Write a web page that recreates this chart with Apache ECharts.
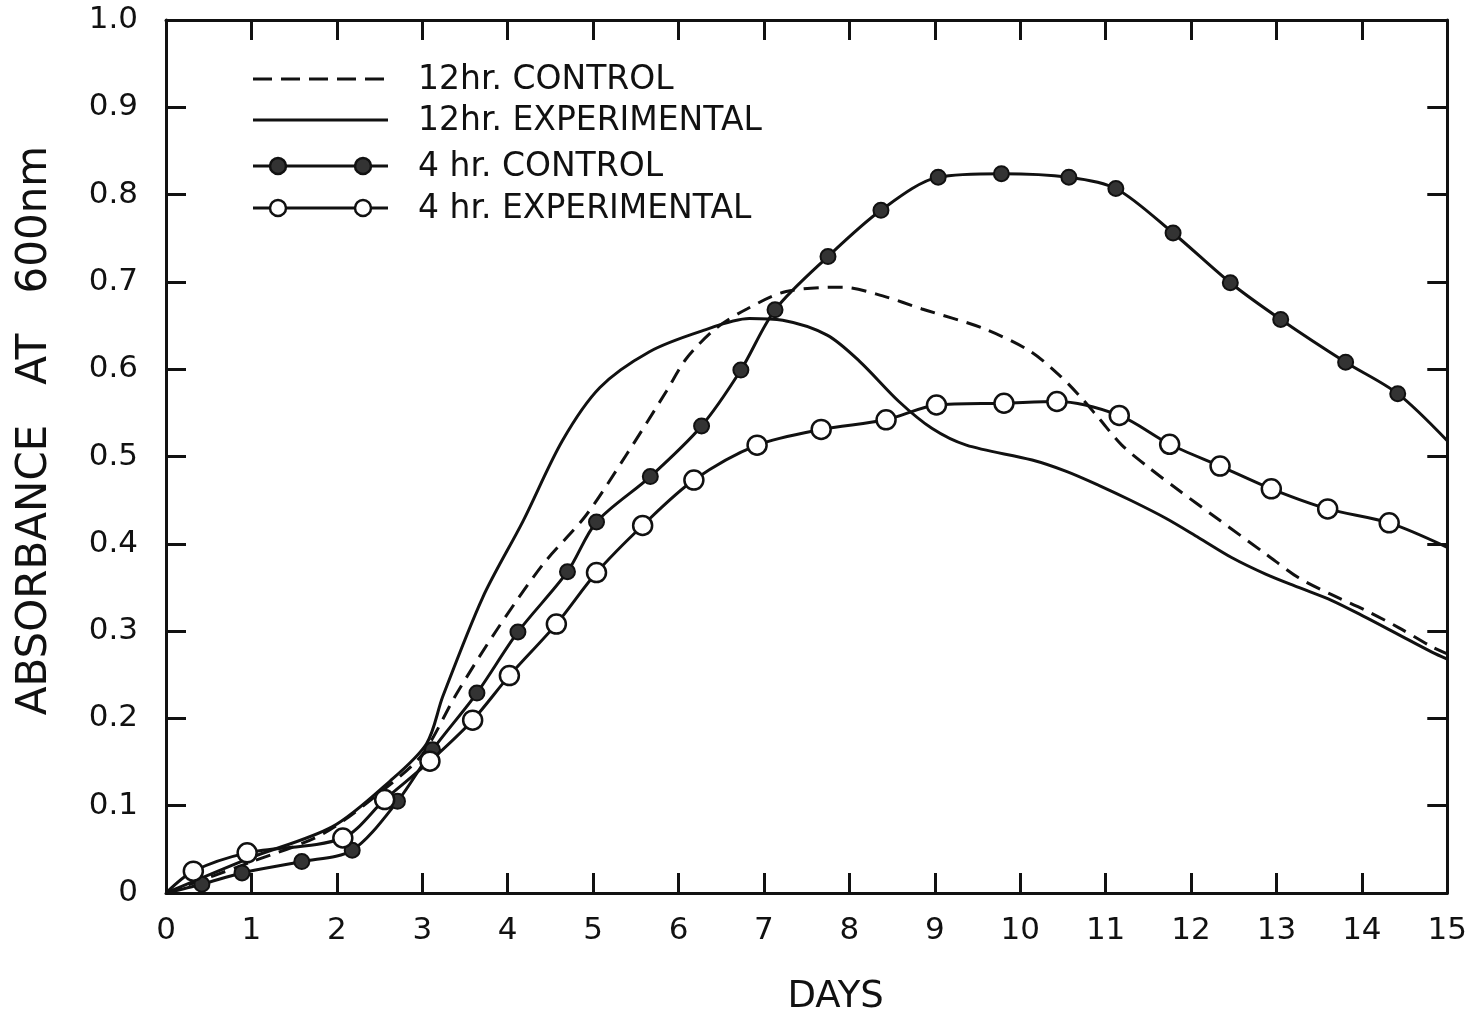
<!DOCTYPE html>
<html>
<head>
<meta charset="utf-8">
<script src="https://cdn.jsdelivr.net/npm/echarts@6/dist/echarts.min.js"></script>
<style>
  html, body { margin: 0; padding: 0; background: #fff; }
  #chart { width: 1470px; height: 1021px; }
</style>
</head>
<body>
<div id="chart"></div>
<script>
// 12 hr control (dashed, no markers)
var days12c = [0, 0.98, 1.84, 2.62, 3.01, 3.40, 3.87, 4.41, 4.92, 5.39, 5.86, 6.09, 6.44, 6.80, 7.26, 7.92, 8.39, 8.85, 9.56, 10.11, 10.46, 10.69, 10.92, 11.19, 11.51, 11.86, 12.25, 12.88, 13.26, 13.64, 14.04, 14.43, 14.82, 15];
var abs12c = [0, 0.035, 0.068, 0.124, 0.160, 0.228, 0.301, 0.376, 0.433, 0.502, 0.575, 0.612, 0.647, 0.669, 0.689, 0.694, 0.684, 0.669, 0.647, 0.621, 0.593, 0.570, 0.544, 0.513, 0.487, 0.461, 0.433, 0.388, 0.361, 0.342, 0.324, 0.304, 0.282, 0.274];

// 12 hr experimental (solid, no markers)
var days12e = [0, 0.98, 1.95, 2.62, 3.05, 3.24, 3.71, 4.18, 4.64, 5.08, 5.66, 6.25, 6.83, 7.22, 7.74, 8.12, 8.58, 8.97, 9.37, 10.14, 10.54, 10.92, 11.31, 11.71, 12.09, 12.48, 12.88, 13.26, 13.65, 14.04, 14.43, 14.82, 15];
var abs12e = [0, 0.040, 0.076, 0.128, 0.171, 0.225, 0.339, 0.426, 0.518, 0.579, 0.620, 0.643, 0.658, 0.656, 0.639, 0.609, 0.563, 0.532, 0.513, 0.496, 0.483, 0.467, 0.449, 0.429, 0.407, 0.384, 0.365, 0.350, 0.335, 0.316, 0.296, 0.276, 0.268];

// 4 hr control (filled dots); first and last entries are line ends only
var days4c = [0, 0.42, 0.89, 1.59, 2.18, 2.71, 3.12, 3.64, 4.12, 4.70, 5.04, 5.67, 6.27, 6.73, 7.13, 7.75, 8.37, 9.04, 9.78, 10.57, 11.12, 11.79, 12.46, 13.05, 13.81, 14.42, 15];
var abs4c = [0, 0.010, 0.023, 0.036, 0.049, 0.105, 0.164, 0.229, 0.299, 0.368, 0.425, 0.477, 0.535, 0.599, 0.668, 0.729, 0.782, 0.820, 0.824, 0.820, 0.807, 0.756, 0.699, 0.657, 0.608, 0.572, 0.518];

// 4 hr experimental (open circles); first and last entries are line ends only
var days4e = [0, 0.32, 0.95, 2.07, 2.56, 3.09, 3.59, 4.02, 4.57, 5.04, 5.58, 6.18, 6.92, 7.67, 8.43, 9.02, 9.81, 10.43, 11.16, 11.75, 12.34, 12.94, 13.60, 14.32, 15];
var abs4e = [0, 0.025, 0.046, 0.063, 0.107, 0.151, 0.198, 0.249, 0.308, 0.367, 0.421, 0.473, 0.513, 0.531, 0.542, 0.559, 0.561, 0.563, 0.547, 0.514, 0.489, 0.463, 0.440, 0.424, 0.396];

var legendNames = ['12hr. CONTROL', '12hr. EXPERIMENTAL', '4 hr. CONTROL', '4 hr. EXPERIMENTAL'];

var ink = '#111';
var font = 'DejaVu Sans';

function pairs(xs, ys, endsBare) {
  return xs.map(function (x, i) {
    var item = { value: [x, ys[i]] };
    if (endsBare && (i === 0 || i === xs.length - 1)) item.symbol = 'none';
    return item;
  });
}

var chart = echarts.init(document.getElementById('chart'), null, { renderer: 'canvas' });

var tickIn = { show: true, inside: true, length: 20, lineStyle: { color: ink, width: 3 } };
var lineAx = { show: true, onZero: false, lineStyle: { color: ink, width: 3 } };

// legend drawn by hand so the marker rows show two symbols like the original
var rowsY = [79, 120, 166, 208];
var legendGraphic = [];
rowsY.forEach(function (y, i) {
  legendGraphic.push({
    type: 'line', shape: { x1: 253, y1: y, x2: 388, y2: y },
    style: { stroke: ink, lineWidth: 3, lineDash: i === 0 ? [19, 9] : null }
  });
  if (i >= 2) {
    [278, 363].forEach(function (cx) {
      legendGraphic.push({
        type: 'circle', shape: { cx: cx, cy: y, r: 8 },
        style: { fill: i === 2 ? '#333' : '#fff', stroke: ink, lineWidth: 2.5 }
      });
    });
  }
  legendGraphic.push({
    type: 'text', left: 418, top: y - 15,
    style: { text: legendNames[i], font: '33px "' + font + '"', fill: ink }
  });
});

chart.setOption({
  animation: false,
  backgroundColor: '#fff',
  grid: { left: 166, right: 19, top: 20, bottom: 124 },
  graphic: legendGraphic,
  xAxis: [{
    type: 'value', min: 0, max: 15, interval: 1,
    name: 'DAYS', nameLocation: 'middle', nameGap: 86,
    nameTextStyle: { color: ink, fontFamily: font, fontSize: 37, padding: [0, 0, 0, 58] },
    axisLine: lineAx, axisTick: tickIn,
    axisLabel: { color: ink, fontFamily: font, fontSize: 31, margin: 22 },
    splitLine: { show: false }
  }, {
    type: 'value', min: 0, max: 15, interval: 1, position: 'top',
    axisLine: lineAx, axisTick: tickIn,
    axisLabel: { show: false }, splitLine: { show: false }
  }],
  yAxis: [{
    type: 'value', min: 0, max: 1, interval: 0.1,
    name: 'ABSORBANCE   AT   600nm', nameLocation: 'middle', nameGap: 110, nameRotate: 90,
    nameTextStyle: { color: ink, fontFamily: font, fontSize: 42, padding: [0, 0, 0, 52] },
    axisLine: lineAx, axisTick: tickIn,
    axisLabel: {
      color: ink, fontFamily: font, fontSize: 31, margin: 28,
      formatter: function (v) { return v === 0 ? '0' : v.toFixed(1); }
    },
    splitLine: { show: false }
  }, {
    type: 'value', min: 0, max: 1, interval: 0.1, position: 'right',
    axisLine: lineAx, axisTick: tickIn,
    axisLabel: { show: false }, splitLine: { show: false }
  }],
  series: [{
    name: legendNames[0], type: 'line', smooth: 0.3, showSymbol: false,
    data: pairs(days12c, abs12c, false),
    lineStyle: { color: ink, width: 3, type: [15, 9] }, z: 2
  }, {
    name: legendNames[1], type: 'line', smooth: 0.3, showSymbol: false,
    data: pairs(days12e, abs12e, false),
    lineStyle: { color: ink, width: 3 }, z: 2
  }, {
    name: legendNames[2], type: 'line', smooth: 0.3,
    symbol: 'circle', symbolSize: 15, showAllSymbol: true,
    data: pairs(days4c, abs4c, true),
    lineStyle: { color: ink, width: 3 },
    itemStyle: { color: '#333', borderColor: ink, borderWidth: 2 }, z: 3
  }, {
    name: legendNames[3], type: 'line', smooth: 0.3,
    symbol: 'circle', symbolSize: 19, showAllSymbol: true,
    data: pairs(days4e, abs4e, true),
    lineStyle: { color: ink, width: 3 },
    itemStyle: { color: '#fff', borderColor: ink, borderWidth: 2.5 }, z: 4
  }]
});
window.addEventListener('resize', function () { chart.resize(); });
</script>
</body>
</html>
